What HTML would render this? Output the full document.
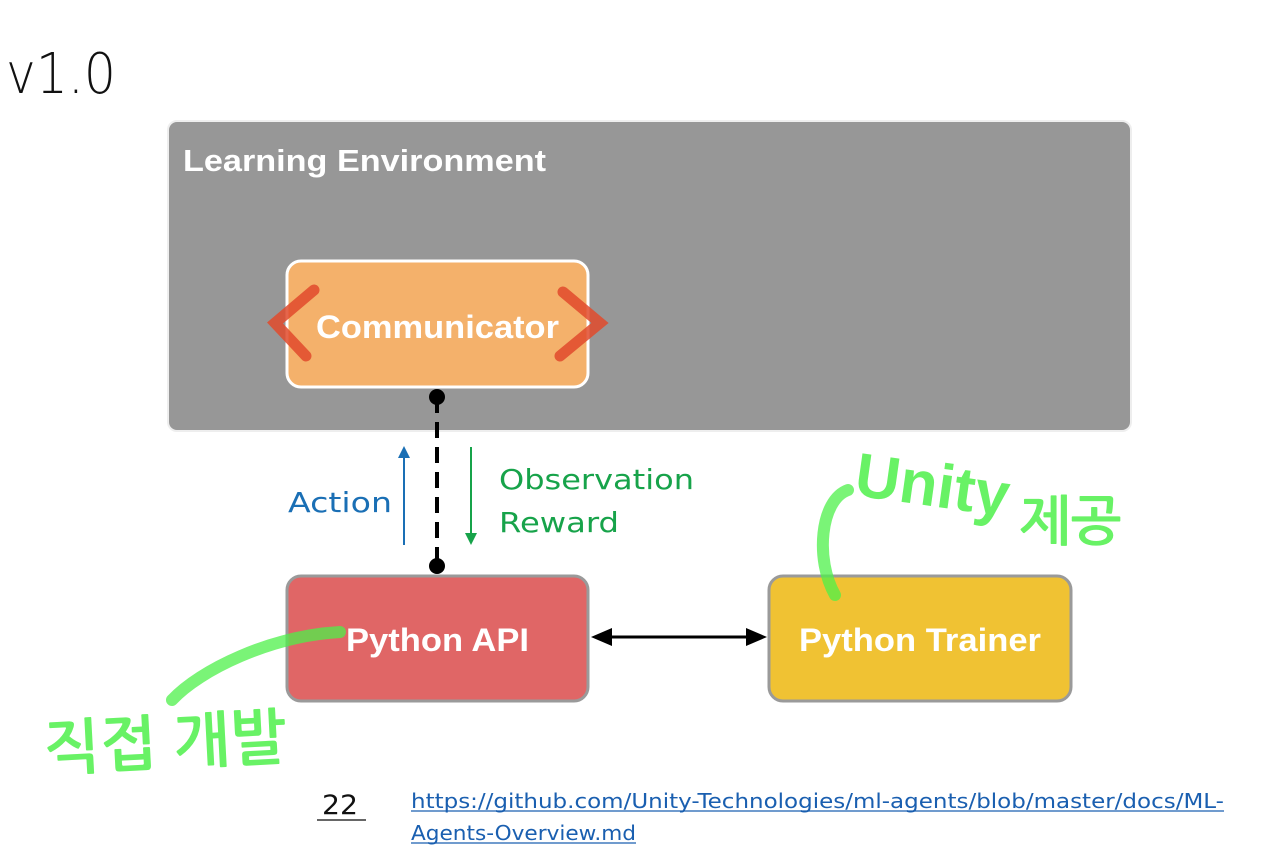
<!DOCTYPE html>
<html><head><meta charset="utf-8"><style>
html,body{margin:0;padding:0;background:#fff;width:1280px;height:865px;overflow:hidden}
svg{display:block}
</style></head><body>
<svg width="1280" height="865" viewBox="0 0 1280 865" xmlns="http://www.w3.org/2000/svg">
<text x="6" y="93" font-family="DejaVu Sans, sans-serif" font-weight="200" font-size="56" fill="#111" textLength="110" lengthAdjust="spacingAndGlyphs">v1.0</text>
<rect x="168" y="121" width="963" height="310" rx="9" fill="#979797" stroke="#eee" stroke-width="2"/>
<text x="183" y="171" font-family="Liberation Sans, sans-serif" font-weight="bold" font-size="31" fill="#fff" textLength="363" lengthAdjust="spacingAndGlyphs">Learning Environment</text>
<rect x="287" y="261" width="301" height="126" rx="14" fill="#f4b16b" stroke="#fff" stroke-width="3"/>
<text x="316" y="338" font-family="Liberation Sans, sans-serif" font-weight="bold" font-size="32" fill="#fff" textLength="243" lengthAdjust="spacingAndGlyphs">Communicator</text>
<g stroke-linecap="round" fill="none" stroke-width="11" stroke-opacity="0.85">
<path d="M314 290 L275 323 L306 356" stroke="#e04a2c"/>
<path d="M563 292 L600 323 L560 356" stroke="#e04a2c"/>
</g>
<line x1="437" y1="397" x2="437" y2="566" stroke="#000" stroke-width="4" stroke-dasharray="16,9"/>
<circle cx="437" cy="397" r="8" fill="#000"/>
<circle cx="437" cy="566" r="8" fill="#000"/>
<line x1="404" y1="545" x2="404" y2="456" stroke="#1a6fb5" stroke-width="2"/>
<path d="M398 458 L404 446 L410 458 Z" fill="#1a6fb5"/>
<text x="288" y="512" font-family="DejaVu Sans, sans-serif" font-size="28" fill="#1a6fb5" textLength="104" lengthAdjust="spacingAndGlyphs">Action</text>
<line x1="471" y1="447" x2="471" y2="535" stroke="#17a34a" stroke-width="2"/>
<path d="M465 533 L471 545 L477 533 Z" fill="#17a34a"/>
<text x="499" y="489" font-family="DejaVu Sans, sans-serif" font-size="28" fill="#17a34a" textLength="195" lengthAdjust="spacingAndGlyphs">Observation</text>
<text x="499" y="532" font-family="DejaVu Sans, sans-serif" font-size="28" fill="#17a34a" textLength="120" lengthAdjust="spacingAndGlyphs">Reward</text>
<rect x="287" y="576" width="301" height="125" rx="14" fill="#e06666" stroke="#9a9a9a" stroke-width="3"/>
<text x="346" y="651" font-family="Liberation Sans, sans-serif" font-weight="bold" font-size="32" fill="#fff" textLength="183" lengthAdjust="spacingAndGlyphs">Python API</text>
<rect x="769" y="576" width="302" height="125" rx="14" fill="#f0c233" stroke="#9a9a9a" stroke-width="3"/>
<text x="799" y="651" font-family="Liberation Sans, sans-serif" font-weight="bold" font-size="32" fill="#fff" textLength="242" lengthAdjust="spacingAndGlyphs">Python Trainer</text>
<line x1="605" y1="637" x2="752" y2="637" stroke="#000" stroke-width="3"/>
<path d="M591 637 L612 628 L612 646 Z" fill="#000"/>
<path d="M767 637 L746 628 L746 646 Z" fill="#000"/>
<g fill="none" stroke="#4ef04a" stroke-opacity="0.75" stroke-linecap="round" stroke-width="12">
<path d="M340 632 C270 636 200 670 172 700"/>
<path d="M848 490 C820 500 815 560 835 595"/>
</g>
<text x="45" y="770" font-family="NanumGothic, 'Noto Sans CJK KR', sans-serif" font-weight="bold" font-size="60" fill="#4ef04a" fill-opacity="0.85" transform="rotate(-3 45 770)">직접 개발</text>
<text x="855" y="505" font-family="Liberation Sans, sans-serif" font-weight="bold" font-size="62" fill="#4ef04a" fill-opacity="0.85" transform="rotate(8 925 485)">Unity</text>
<text x="1020" y="540" font-family="NanumGothic, 'Noto Sans CJK KR', sans-serif" font-weight="bold" font-size="54" fill="#4ef04a" fill-opacity="0.85">제공</text>
<text x="322" y="814" font-family="DejaVu Sans, sans-serif" font-size="27" fill="#111" textLength="36" lengthAdjust="spacingAndGlyphs">22</text>
<line x1="317" y1="820" x2="366" y2="820" stroke="#333" stroke-width="1.5"/>
<text x="411" y="808" font-family="DejaVu Sans, sans-serif" font-size="20" fill="#1a5fb0" textLength="813" lengthAdjust="spacingAndGlyphs">https://github.com/Unity-Technologies/ml-agents/blob/master/docs/ML-</text>
<line x1="411" y1="811" x2="1224" y2="811" stroke="#1a5fb0" stroke-width="1.2"/>
<text x="411" y="840" font-family="DejaVu Sans, sans-serif" font-size="20" fill="#1a5fb0" textLength="225" lengthAdjust="spacingAndGlyphs">Agents-Overview.md</text>
<line x1="411" y1="843" x2="636" y2="843" stroke="#1a5fb0" stroke-width="1.2"/>
</svg>
</body></html>
